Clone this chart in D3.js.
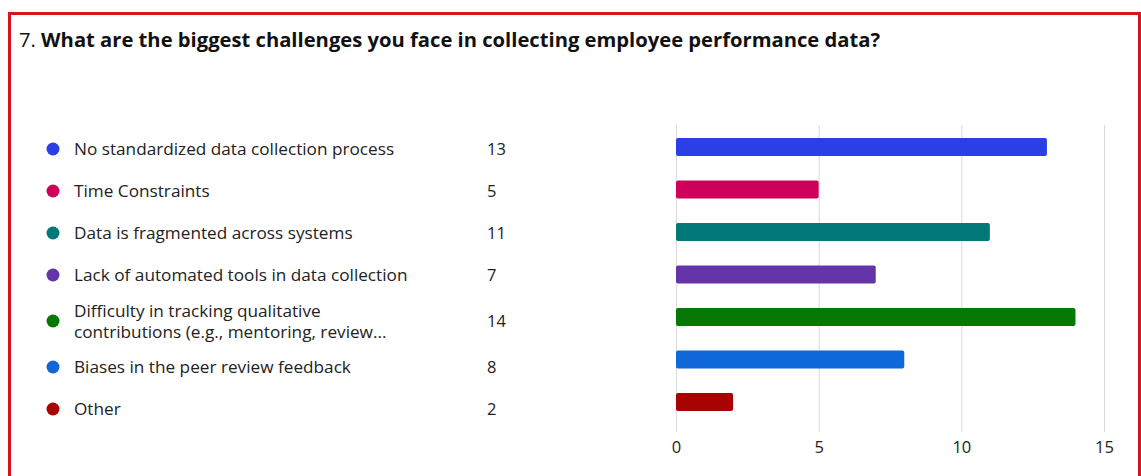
<!DOCTYPE html>
<html>
<head>
<meta charset="utf-8">
<script src="https://cdn.jsdelivr.net/npm/d3@7"></script>
<style>
  html, body { margin: 0; padding: 0; background: #fff; }
  svg { display: block; }
</style>
</head>
<body>
<svg id="chart" width="1141" height="476"></svg>
<script>
// Survey question 7 responses
const categories = [
  "No standardized data collection process",
  "Time Constraints",
  "Data is fragmented across systems",
  "Lack of automated tools in data collection",
  "Difficulty in tracking qualitative contributions (e.g., mentoring, review...",
  "Biases in the peer review feedback",
  "Other"
];
const legendLines = [
  ["No standardized data collection process"],
  ["Time Constraints"],
  ["Data is fragmented across systems"],
  ["Lack of automated tools in data collection"],
  ["Difficulty in tracking qualitative", "contributions (e.g., mentoring, review..."],
  ["Biases in the peer review feedback"],
  ["Other"]
];
const counts = [13, 5, 11, 7, 14, 8, 2];
const colors = ["#2a40e6", "#cf0059", "#037878", "#6634a9", "#067806", "#0f67d8", "#a80303"];
const tickValues = [0, 5, 10, 15];

const svg = d3.select("#chart");
const font = "'Open Sans', 'Noto Sans', sans-serif";

// Frame
svg.append("rect")
  .attr("x", 9.5).attr("y", 13.5)
  .attr("width", 1130).attr("height", 480)
  .attr("fill", "#fff")
  .attr("stroke", "#d5161c")
  .attr("stroke-width", 3);

// Title
const title = svg.append("text")
  .attr("x", 19).attr("y", 47)
  .attr("font-family", font)
  .attr("font-size", 20.2)
  .attr("fill", "#111");
title.append("tspan").text("7. ");
title.append("tspan").attr("font-weight", "bold")
  .text("What are the biggest challenges you face in collecting employee performance data?");

// Legend
const rowHeights = legendLines.map(l => l.length > 1 ? 50 : 42);
const rowCenters = [];
let acc = 149;
rowHeights.forEach((h, i) => {
  if (i > 0) acc += (rowHeights[i - 1] + h) / 2;
  rowCenters.push(acc);
});

const legend = svg.append("g");
const rows = legend.selectAll("g.row")
  .data(categories)
  .join("g")
  .attr("class", "row")
  .attr("transform", (d, i) => `translate(0,${rowCenters[i]})`);

rows.append("circle")
  .attr("cx", 53).attr("cy", 0).attr("r", 6.5)
  .attr("fill", (d, i) => colors[i]);

rows.append("text")
  .attr("x", 74)
  .attr("font-family", font)
  .attr("font-size", 17.2)
  .attr("fill", "#222")
  .each(function (d, i) {
    const lines = legendLines[i];
    const t = d3.select(this);
    const lh = 21;
    lines.forEach((ln, j) => {
      t.append("tspan")
        .attr("x", 74)
        .attr("y", (j - (lines.length - 1) / 2) * lh)
        .attr("dy", "0.35em")
        .text(ln);
    });
  });

rows.append("text")
  .attr("x", 487).attr("y", 0).attr("dy", "0.35em")
  .attr("font-family", font)
  .attr("font-size", 16.5)
  .attr("fill", "#222")
  .text((d, i) => counts[i]);

// Bar chart
const x = d3.scaleLinear().domain([0, 15]).range([676, 1104]);
const y = d3.scaleBand().domain(categories).range([125.75, 423.25]).paddingInner(0.58).paddingOuter(0.29);

const grid = svg.append("g")
  .attr("transform", "translate(0,432)")
  .call(d3.axisBottom(x).tickValues(tickValues).tickSize(-307).tickSizeOuter(0).tickPadding(9));
grid.select(".domain").remove();
grid.selectAll(".tick line").attr("stroke", "#d9d9d9").attr("stroke-width", 1);
grid.selectAll(".tick text")
  .attr("font-family", font)
  .attr("font-size", 16.5)
  .attr("fill", "#222");

svg.append("g").selectAll("rect")
  .data(categories)
  .join("rect")
  .attr("x", x(0))
  .attr("y", d => y(d))
  .attr("width", (d, i) => x(counts[i]) - x(0))
  .attr("height", y.bandwidth())
  .attr("rx", 2)
  .attr("fill", (d, i) => colors[i]);
</script>
</body>
</html>
